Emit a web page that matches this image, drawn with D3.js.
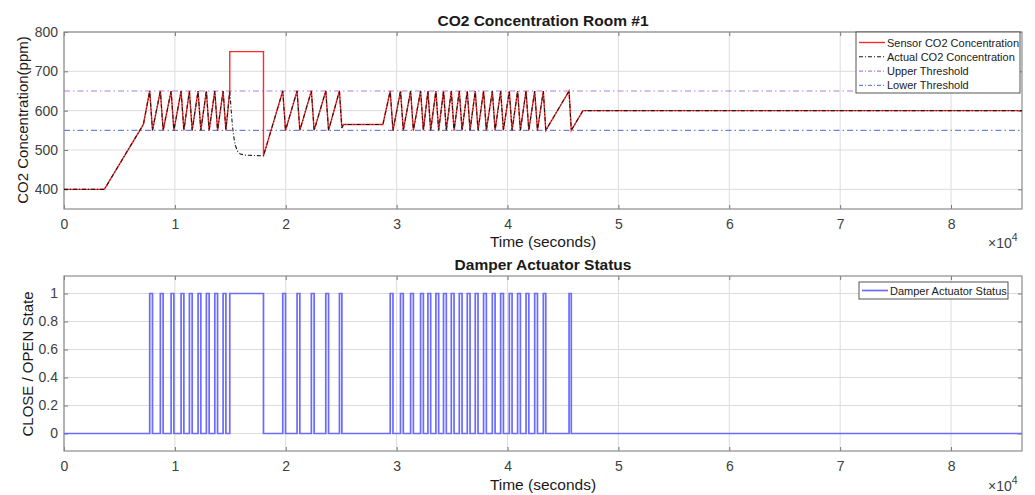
<!DOCTYPE html>
<html><head><meta charset="utf-8">
<script src="https://cdn.jsdelivr.net/npm/d3@7"></script>
<style>body{margin:0;background:#fff;font-family:"Liberation Sans",Arial,sans-serif;}</style>
</head><body><svg id="c" width="1035" height="495"></svg>
<script>
// ---------- data ----------
const xTickValues = [0, 10000, 20000, 30000, 40000, 50000, 60000, 70000, 80000];
const xTickLabels = ["0","1","2","3","4","5","6","7","8"];
const co2TickValues = [400, 500, 600, 700, 800];
const stateTickValues = [0, 0.2, 0.4, 0.6, 0.8, 1];
const stateTickLabels = ["0","0.2","0.4","0.6","0.8","1"];
const upperThreshold = 650;
const lowerThreshold = 550;

// Sensor CO2 concentration [time (s), ppm]
const sensorPoints = [
  [0,400],[3640,400],[7160,565],[7730,650],[7980,550],[8690,650],[8940,550],[9660,650],[9910,550],
  [10560,650],[10810,550],[11310,650],[11560,550],[12090,650],[12340,550],[12840,650],[13090,550],
  [13600,650],[13850,550],[14350,650],[14600,550],[14950,650],[14950,750],[17990,750],[17990,485],
  [19730,650],[19980,550],[21020,650],[21270,550],[22310,650],[22560,550],[23610,650],[23860,550],
  [24840,650],[25060,556],[25200,565],[28760,565],[29420,650],[29670,550],[30350,650],[30600,550],
  [31260,650],[31510,550],[32160,650],[32410,550],[32820,650],[33070,550],[33540,650],[33790,550],
  [34230,650],[34480,550],[34930,650],[35180,550],[35650,650],[35900,550],[36370,650],[36620,550],
  [37090,650],[37340,550],[37840,650],[38090,550],[38630,650],[38880,550],[39380,650],[39630,550],
  [40160,650],[40410,550],[40910,650],[41160,550],[41670,650],[41920,550],[42450,650],[42700,550],
  [43230,650],[43450,550],[45550,650],[45750,550],[46800,600],[86400,600]
];
// Actual CO2 differs from the sensor while the damper stays open
const actualTransient = [
  [14950,650],[15000,632],[15080,600],[15180,565],[15300,535],[15450,512],[15650,497],
  [15900,490],[16300,487],[17990,485]
];
// Damper open / close times (s)
const damperOpen = [7730,8690,9660,10560,11310,12090,12840,13600,14350,14950,19730,21020,22310,23610,24840,
  29420,30350,31260,32160,32820,33540,34230,34930,35650,36370,37090,37840,38630,39380,40160,40910,41670,42450,43230,45550];
const damperClose = [7980,8940,9910,10810,11560,12340,13090,13850,14600,17990,19980,21270,22560,23860,25060,
  29670,30600,31510,32410,33070,33790,34480,35180,35900,36620,37340,38090,38880,39630,40410,41160,41920,42700,43450,45750];

// ---------- derived ----------
const actualPoints = sensorPoints.filter(d => d[0] < 14950)
  .concat(actualTransient, sensorPoints.filter(d => d[0] > 17990));
const damperPoints = [[0,0]];
damperOpen.forEach((o,i) => { damperPoints.push([o,0],[o,1],[damperClose[i],1],[damperClose[i],0]); });
damperPoints.push([86400,0]);

// ---------- drawing ----------
const svg = d3.select("#c");
const FONT = "Liberation Sans, Arial, sans-serif";
const L = 64, R = 1022;
const x = d3.scaleLinear().domain([0,86400]).range([L,R]);
const yTop = d3.scaleLinear().domain([350,800]).range([209,32]);
const yBot = d3.scaleLinear().domain([-0.125,1.125]).range([451,276]);
const gridColor = "#dcdcdc", boxColor = "#8c8c8c", tickText = "#404040";

function panel(y, yTicks, yLabels, id){
  const [b,t] = y.range();
  const g = svg.append("g");
  g.append("defs").append("clipPath").attr("id",id).append("rect")
    .attr("x",L).attr("y",t).attr("width",R-L).attr("height",b-t);
  g.selectAll(".gx").data(xTickValues).join("line")
    .attr("x1",d=>x(d)).attr("x2",d=>x(d)).attr("y1",t).attr("y2",b)
    .attr("stroke",gridColor).attr("stroke-width",1);
  g.selectAll(".gy").data(yTicks).join("line")
    .attr("x1",L).attr("x2",R).attr("y1",d=>y(d)).attr("y2",d=>y(d))
    .attr("stroke",gridColor).attr("stroke-width",1);
  const ax = d3.axisBottom(x).tickValues(xTickValues).tickFormat((d,i)=>xTickLabels[i]).tickSizeInner(-4).tickSizeOuter(0).tickPadding(10);
  const gx = g.append("g").attr("transform",`translate(0,${b})`).call(ax);
  const ay = d3.axisLeft(y).tickValues(yTicks).tickFormat((d,i)=>yLabels[i]).tickSizeInner(-4).tickSizeOuter(0).tickPadding(6);
  const gy = g.append("g").attr("transform",`translate(${L},0)`).call(ay);
  const axT = d3.axisTop(x).tickValues(xTickValues).tickFormat("").tickSizeInner(-4).tickSizeOuter(0);
  const gxt = g.append("g").attr("transform",`translate(0,${t})`).call(axT);
  const ayR = d3.axisRight(y).tickValues(yTicks).tickFormat("").tickSizeInner(-4).tickSizeOuter(0);
  const gyr = g.append("g").attr("transform",`translate(${R},0)`).call(ayR);
  [gx,gy,gxt,gyr].forEach(a=>{
    a.select(".domain").remove();
    a.selectAll("line").attr("stroke","#777");
    a.selectAll("text").attr("fill",tickText).style("font-size","14px").style("font-family",FONT);
  });
  g.append("rect").attr("x",L).attr("y",t).attr("width",R-L).attr("height",b-t)
    .attr("fill","none").attr("stroke",boxColor).attr("stroke-width",1.2);
  return g;
}

panel(yTop, co2TickValues, co2TickValues.map(String), "clipTop");
panel(yBot, stateTickValues, stateTickLabels, "clipBot");

const lineTop = d3.line().x(d=>x(d[0])).y(d=>yTop(d[1]));
const plotTop = svg.append("g").attr("clip-path","url(#clipTop)");
plotTop.append("line").attr("x1",L).attr("x2",R).attr("y1",yTop(upperThreshold)).attr("y2",yTop(upperThreshold))
  .attr("stroke","#b47fd8").attr("stroke-width",1.1).attr("stroke-dasharray","6,3,1.5,3");
plotTop.append("line").attr("x1",L).attr("x2",R).attr("y1",yTop(lowerThreshold)).attr("y2",yTop(lowerThreshold))
  .attr("stroke","#6f84d6").attr("stroke-width",1.1).attr("stroke-dasharray","6,3,1.5,3");
plotTop.append("path").datum(sensorPoints).attr("d",lineTop).attr("fill","none")
  .attr("stroke","#ff2a2a").attr("stroke-width",1.4);
plotTop.append("path").datum(actualPoints).attr("d",lineTop).attr("fill","none")
  .attr("stroke","#1a1a1a").attr("stroke-width",1.1).attr("stroke-dasharray","4,2,1,2");

const lineBot = d3.line().x(d=>x(d[0])).y(d=>yBot(d[1]));
svg.append("g").attr("clip-path","url(#clipBot)").append("path").datum(damperPoints).attr("d",lineBot)
  .attr("fill","none").attr("stroke","#6b6bff").attr("stroke-width",1.7);

function txt(xp, yp, s, size, weight, anchor, rot){
  const t = svg.append("text").attr("x",xp).attr("y",yp).text(s)
    .attr("font-size",size).attr("font-weight",weight||"normal").attr("text-anchor",anchor||"middle")
    .attr("fill","#1a1a1a").style("font-family",FONT);
  if(rot) t.attr("transform",`rotate(${rot},${xp},${yp})`);
  return t;
}
txt(543, 26, "CO2 Concentration Room #1", 15.5, "bold");
txt(543, 270, "Damper Actuator Status", 15.5, "bold");
txt(543, 247, "Time (seconds)", 15.5);
txt(543, 490, "Time (seconds)", 15.5);
txt(28, 120, "CO2 Concentration(ppm)", 15, "normal", "middle", -90);
txt(33, 364, "CLOSE / OPEN State", 15, "normal", "middle", -90);
function sci(yp){
  const t = svg.append("text").attr("x",988).attr("y",yp).attr("font-size",14).attr("fill",tickText)
    .style("font-family",FONT);
  t.append("tspan").text("×10");
  t.append("tspan").text("4").attr("dy",-7).attr("font-size",10.5);
}
sci(248); sci(491);

const legTop = [
  {label:"Sensor CO2 Concentration", color:"#ff2a2a", dash:null, w:1.4},
  {label:"Actual CO2 Concentration", color:"#1a1a1a", dash:"4,2,1,2", w:1.1},
  {label:"Upper Threshold", color:"#b47fd8", dash:"4,2,1,2", w:1.1},
  {label:"Lower Threshold", color:"#6f84d6", dash:"4,2,1,2", w:1.1}
];
svg.append("rect").attr("x",856).attr("y",32).attr("width",164).attr("height",61)
  .attr("fill","#fff").attr("stroke","#555").attr("stroke-width",1);
legTop.forEach((d,i)=>{
  const yy = 42.5 + i*14.3;
  svg.append("line").attr("x1",859).attr("x2",885).attr("y1",yy).attr("y2",yy)
    .attr("stroke",d.color).attr("stroke-width",d.w).attr("stroke-dasharray",d.dash);
  svg.append("text").attr("x",887).attr("y",yy+4).text(d.label).attr("font-size",11).attr("fill","#1a1a1a")
    .style("font-family",FONT);
});
svg.append("rect").attr("x",859).attr("y",282).attr("width",149).attr("height",17)
  .attr("fill","#fff").attr("stroke","#555").attr("stroke-width",1);
svg.append("line").attr("x1",862).attr("x2",888).attr("y1",290.5).attr("y2",290.5)
  .attr("stroke","#6b6bff").attr("stroke-width",1.7);
svg.append("text").attr("x",890).attr("y",294.5).text("Damper Actuator Status").attr("font-size",11).attr("fill","#1a1a1a")
  .style("font-family",FONT);
</script></body></html>
